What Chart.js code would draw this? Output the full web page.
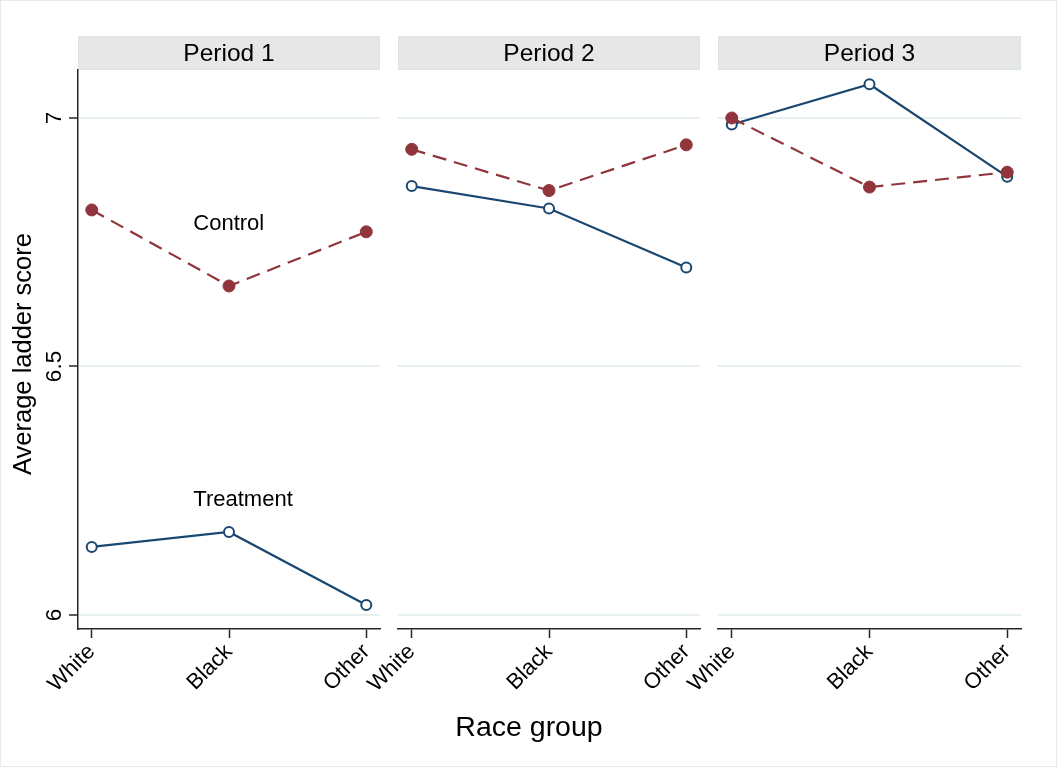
<!DOCTYPE html>
<html>
<head>
<meta charset="utf-8">
<title>Average ladder score by race group</title>
<script src="https://cdn.jsdelivr.net/npm/chart.js@4.4.1/dist/chart.umd.min.js"></script>
<style>
  html, body { margin: 0; padding: 0; background: #fff; }
  #wrap { position: relative; width: 1058px; height: 769px; overflow: hidden; }
  #frame { position: absolute; left: 0; top: 0; width: 1055px; height: 765px; border: 1px solid #e3ebef; }
  canvas { position: absolute; left: 0; top: 0; }
</style>
</head>
<body>
<div id="wrap">
  <div id="frame"></div>
  <canvas id="p1" width="1058" height="769"></canvas>
  <canvas id="p2" width="1058" height="769"></canvas>
  <canvas id="p3" width="1058" height="769"></canvas>
</div>
<script>
// categories and panels
const categories = ['White', 'Black', 'Other'];
const catPos = [1, 2, 3];
const periods = ['Period 1', 'Period 2', 'Period 3'];

// average ladder score
const controlP1 = [6.815, 6.662, 6.771];
const treatP1 = [6.137, 6.167, 6.020];
const controlP2 = [6.937, 6.854, 6.946];
const treatP2 = [6.863, 6.818, 6.699];
const controlP3 = [7.000, 6.861, 6.891];
const treatP3 = [6.987, 7.068, 6.882];

// y axis ticks
const yTicks = [6, 6.5, 7];
const yTickLabels = ['6', '6.5', '7'];

// text labels placed in panel 1 (x, y in data units)
const labelText = ['Control', 'Treatment'];
const labelX = [1.74, 1.74];
const labelY = [6.786, 6.231];

const controlSeries = [controlP1, controlP2, controlP3];
const treatSeries = [treatP1, treatP2, treatP3];

const maroon = '#90353b';
const navy = '#1a476f';
const axisColor = '#262626';
const gridColor = '#e9f0f2';
const fontFamily = '"Liberation Sans", Arial, Helvetica, sans-serif';

Chart.defaults.font.family = fontFamily;
Chart.defaults.color = '#000';

// plot area edges for each panel
const panelLeft = [78, 398, 718];
const panelRight = [380, 700, 1021];

function toPoints(values) {
  return values.map((v, i) => ({ x: catPos[i], y: v }));
}

// strip headers, rotated y labels, titles and text labels
const decorPlugin = {
  id: 'decor',
  beforeDraw(chart, args, opts) {
    const ctx = chart.ctx;
    const area = chart.chartArea;
    ctx.save();
    ctx.fillStyle = '#e7e7e7';
    ctx.fillRect(area.left, 36, area.right - area.left, 34);
    ctx.strokeStyle = '#dbe6ec';
    ctx.lineWidth = 1;
    ctx.strokeRect(area.left + 0.5, 36.5, area.right - area.left - 1, 33);
    ctx.fillStyle = '#000';
    ctx.font = '24.5px ' + fontFamily;
    ctx.textAlign = 'center';
    ctx.textBaseline = 'alphabetic';
    ctx.fillText(opts.title, (area.left + area.right) / 2, 61);
    ctx.restore();
  },
  afterDraw(chart, args, opts) {
    if (!opts.first) return;
    const ctx = chart.ctx;
    const y = chart.scales.y;
    const x = chart.scales.x;
    ctx.save();
    ctx.fillStyle = '#000';
    // y tick labels, vertical
    ctx.font = '22.5px ' + fontFamily;
    ctx.textAlign = 'center';
    ctx.textBaseline = 'alphabetic';
    yTicks.forEach((v, i) => {
      ctx.save();
      ctx.translate(61, y.getPixelForValue(v));
      ctx.rotate(-Math.PI / 2);
      ctx.fillText(yTickLabels[i], 0, 0);
      ctx.restore();
    });
    // y axis title
    ctx.font = '25.5px ' + fontFamily;
    ctx.save();
    ctx.translate(31, 354);
    ctx.rotate(-Math.PI / 2);
    ctx.fillText('Average ladder score', 0, 0);
    ctx.restore();
    // x axis title, centred on the whole graph
    ctx.font = '28.5px ' + fontFamily;
    ctx.fillText('Race group', 529, 736);
    // group labels
    ctx.font = '22px ' + fontFamily;
    ctx.textAlign = 'left';
    ctx.textBaseline = 'middle';
    labelText.forEach((t, i) => {
      ctx.fillText(t, x.getPixelForValue(labelX[i]), y.getPixelForValue(labelY[i]));
    });
    ctx.restore();
  }
};

function makePanel(id, k) {
  const first = k === 0;
  return new Chart(document.getElementById(id), {
    type: 'line',
    data: {
      datasets: [
        {
          label: 'Control',
          data: toPoints(controlSeries[k]),
          borderColor: maroon,
          backgroundColor: maroon,
          borderWidth: 2.2,
          borderDash: [14, 8],
          pointRadius: 6,
          pointBorderWidth: 1,
          pointBorderColor: maroon,
          pointBackgroundColor: maroon
        },
        {
          label: 'Treatment',
          data: toPoints(treatSeries[k]),
          borderColor: navy,
          backgroundColor: navy,
          borderWidth: 2.2,
          pointRadius: 5,
          pointBorderWidth: 2,
          pointBorderColor: navy,
          pointBackgroundColor: '#fff'
        }
      ]
    },
    options: {
      responsive: false,
      animation: false,
      events: [],
      layout: {
        padding: { left: first ? 0 : panelLeft[k], right: 1058 - panelRight[k], top: 70, bottom: 0 }
      },
      plugins: {
        legend: { display: false },
        tooltip: { enabled: false },
        decor: { title: periods[k], first: first }
      },
      scales: {
        x: {
          type: 'linear',
          min: 0.9,
          max: 3.1,
          afterBuildTicks: s => { s.ticks = catPos.map(v => ({ value: v })); },
          afterFit: s => { s.height = 140; },
          ticks: {
            autoSkip: false,
            minRotation: 45,
            maxRotation: 45,
            padding: 1,
            color: '#000',
            font: { size: 22 },
            callback: v => categories[v - 1]
          },
          grid: {
            drawOnChartArea: false,
            drawTicks: true,
            tickLength: 9,
            tickColor: axisColor,
            tickWidth: 1.5
          },
          border: { display: true, color: axisColor, width: 1.5 }
        },
        y: {
          type: 'linear',
          min: 5.9718,
          max: 7.0966,
          afterBuildTicks: s => { s.ticks = yTicks.map(v => ({ value: v })); },
          afterFit: s => { s.width = first ? 78 : 0; },
          ticks: { display: false },
          grid: {
            color: gridColor,
            lineWidth: 2,
            drawTicks: first,
            tickLength: 9,
            tickColor: axisColor,
            tickWidth: 1.5
          },
          border: { display: first, color: axisColor, width: 1.5 }
        }
      }
    },
    plugins: [decorPlugin]
  });
}

makePanel('p1', 0);
makePanel('p2', 1);
makePanel('p3', 2);
</script>
</body>
</html>
